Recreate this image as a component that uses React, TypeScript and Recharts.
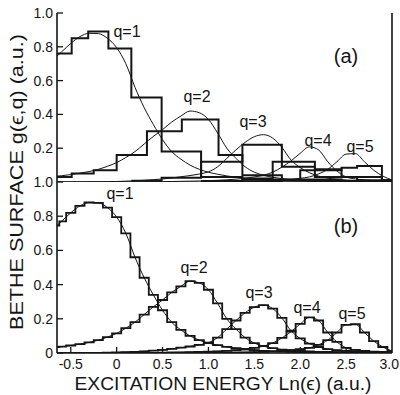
import React from "react";
import { ComposedChart, Line, XAxis, YAxis } from "recharts";

// Ln(eps) sample points of the smooth Bethe-surface curves
const energy = [
  -0.65, -0.6, -0.5, -0.4, -0.3, -0.2, -0.1, 0.0, 0.1, 0.2, 0.3, 0.4, 0.5,
  0.6, 0.7, 0.8, 0.9, 1.0, 1.1, 1.2, 1.3, 1.4, 1.5, 1.6, 1.7, 1.8, 1.9, 2.0,
  2.1, 2.2, 2.3, 2.4, 2.5, 2.6, 2.7, 2.8, 2.9, 3.0,
];

const q1Curve = [
  0.745, 0.77, 0.82, 0.86, 0.88, 0.878, 0.85, 0.795, 0.7, 0.56, 0.44, 0.34,
  0.25, 0.18, 0.135, 0.1, 0.075, 0.058, 0.046, 0.036, 0.028, 0.022, 0.017,
  0.013, 0.01, 0.008, 0.006, 0.005, 0.004, 0.003, 0.003, 0.002, 0.002, 0.002,
  0.001, 0.001, 0.001, 0.001,
];
const q2Curve = [
  0.035, 0.037, 0.044, 0.052, 0.062, 0.075, 0.093, 0.115, 0.145, 0.18, 0.225,
  0.27, 0.31, 0.355, 0.39, 0.42, 0.41, 0.37, 0.29, 0.2, 0.14, 0.09, 0.058,
  0.04, 0.028, 0.02, 0.015, 0.012, 0.009, 0.007, 0.006, 0.005, 0.004, 0.003,
  0.003, 0.002, 0.002, 0.002,
];
const q3Curve = [
  0, 0, 0, 0, 0.001, 0.001, 0.002, 0.003, 0.005, 0.007, 0.01, 0.014, 0.018,
  0.024, 0.031, 0.038, 0.047, 0.06, 0.09, 0.14, 0.19, 0.235, 0.268, 0.28,
  0.26, 0.205, 0.13, 0.085, 0.055, 0.035, 0.023, 0.016, 0.012, 0.009, 0.007,
  0.005, 0.004, 0.003,
];
const q4Curve = [
  0, 0, 0, 0, 0, 0, 0, 0, 0, 0, 0, 0.001, 0.002, 0.003, 0.004, 0.005, 0.006,
  0.008, 0.01, 0.013, 0.017, 0.022, 0.03, 0.04, 0.058, 0.088, 0.125, 0.17,
  0.208, 0.19, 0.12, 0.065, 0.03, 0.018, 0.012, 0.008, 0.006, 0.004,
];
const q5Curve = [
  0, 0, 0, 0, 0, 0, 0, 0, 0, 0, 0, 0, 0, 0, 0, 0, 0, 0, 0.001, 0.002, 0.003,
  0.004, 0.005, 0.007, 0.009, 0.012, 0.016, 0.022, 0.03, 0.048, 0.075, 0.12,
  0.165, 0.168, 0.12, 0.07, 0.035, 0.012,
];

// panel (a): coarse histograms, left bin edges and bin heights
const q1Edges = [-0.65, -0.49, -0.31, -0.09, 0.16, 0.49, 0.92, 1.37, 1.8, 2.45, 3.0];
const q1Heights = [0.76, 0.85, 0.89, 0.79, 0.5, 0.18, 0.03, 0.015, 0.008, 0.004, 0.004];
const q2Edges = [-0.65, -0.49, -0.25, 0.0, 0.33, 0.71, 1.11, 1.37, 1.8, 2.45, 3.0];
const q2Heights = [0.03, 0.05, 0.07, 0.16, 0.3, 0.37, 0.16, 0.04, 0.015, 0.006, 0.006];
const q3Edges = [0.16, 0.49, 0.92, 1.37, 1.8, 2.16, 2.62, 3.0];
const q3Heights = [0.008, 0.025, 0.12, 0.22, 0.09, 0.03, 0.01, 0.01];
const q4Edges = [0.92, 1.37, 1.7, 2.16, 2.45, 2.89, 3.0];
const q4Heights = [0.006, 0.02, 0.12, 0.075, 0.03, 0.01, 0.01];
const q5Edges = [1.37, 1.8, 2.0, 2.45, 2.62, 2.89, 3.0];
const q5Heights = [0.004, 0.012, 0.07, 0.085, 0.095, 0.01, 0.01];

const xTicks = [-0.5, 0, 0.5, 1.0, 1.5, 2.0, 2.5, 3.0];
const topYTicks = [0.2, 0.4, 0.6, 0.8, 1.0];
const bottomYTicks = [0, 0.2, 0.4, 0.6, 0.8, 1.0];
const sideTicks = [0.2, 0.4, 0.6, 0.8];
const curveNames = ["q=1", "q=2", "q=3", "q=4", "q=5"];

const INK = "#151515";
const FONT = "'Liberation Sans', Arial, sans-serif";

const curves = [q1Curve, q2Curve, q3Curve, q4Curve, q5Curve];
const curveRows = curves.map((c) => energy.map((x, i) => ({ x, y: c[i] })));
const coarse = [
  [q1Edges, q1Heights],
  [q2Edges, q2Heights],
  [q3Edges, q3Heights],
  [q4Edges, q4Heights],
  [q5Edges, q5Heights],
].map(([e, h]) => e.map((x, i) => ({ x, y: h[i] })));

const fmt = (v: number) => (v === 0 ? "0" : v.toFixed(1));

function LeftTick({ x, y, payload, showLabel }: any) {
  return (
    <g>
      <line x1={x} x2={x + 6} y1={y} y2={y} stroke={INK} strokeWidth={1.3} />
      {showLabel && (
        <text x={x - 4} y={y + 5} textAnchor="end" fontSize={14} fill={INK} fontFamily={FONT}>
          {fmt(payload.value)}
        </text>
      )}
    </g>
  );
}

function RightTick({ x, y }: any) {
  return <line x1={x} x2={x - 8} y1={y} y2={y} stroke={INK} strokeWidth={1.3} />;
}

function TopTick({ x, y }: any) {
  return <line x1={x} x2={x} y1={y} y2={y + 6} stroke={INK} strokeWidth={1.3} />;
}

function BottomTick({ x, y, payload }: any) {
  const last = payload.value >= 3;
  return (
    <g>
      {!last && <line x1={x} x2={x} y1={y} y2={y - 6} stroke={INK} strokeWidth={1.3} />}
      <text
        x={last ? x + 7 : x}
        y={y + 16}
        textAnchor={last ? "end" : "middle"}
        fontSize={14}
        fill={INK}
        fontFamily={FONT}
      >
        {fmt(payload.value)}
      </text>
    </g>
  );
}

function Panel({ top, bottom, stepped }: { top: number; bottom: number; stepped: boolean }) {
  return (
    <ComposedChart
      width={400}
      height={395}
      margin={{ top, right: 0, bottom: stepped ? 0 : bottom, left: 0 }}
      style={{ position: "absolute", left: 0, top: 0 }}
    >
      <XAxis
        type="number"
        dataKey="x"
        domain={[-0.65, 3.0]}
        allowDataOverflow
        ticks={xTicks}
        height={stepped ? bottom : 0}
        tickSize={0}
        tickMargin={0}
        tickLine={false}
        axisLine={{ stroke: INK, strokeWidth: 1.6 }}
        tick={stepped ? (p: any) => <BottomTick {...p} /> : false}
      />
      <XAxis
        xAxisId="top"
        orientation="top"
        type="number"
        domain={[-0.65, 3.0]}
        ticks={stepped ? [] : xTicks.slice(0, 7)}
        height={0}
        tickSize={0}
        tickMargin={0}
        tickLine={false}
        axisLine={{ stroke: INK, strokeWidth: 1.6 }}
        tick={stepped ? false : (p: any) => <TopTick {...p} />}
      />
      <YAxis
        type="number"
        domain={[0, 1]}
        allowDataOverflow
        ticks={stepped ? bottomYTicks : topYTicks}
        width={57}
        tickSize={0}
        tickMargin={0}
        tickLine={false}
        axisLine={{ stroke: INK, strokeWidth: 1.6 }}
        tick={(p: any) => <LeftTick {...p} showLabel />}
      />
      <YAxis
        yAxisId="right"
        orientation="right"
        type="number"
        domain={[0, 1]}
        ticks={sideTicks}
        width={8}
        tickSize={0}
        tickMargin={0}
        tickLine={false}
        axisLine={{ stroke: INK, strokeWidth: 1.6 }}
        tick={(p: any) => <RightTick {...p} />}
      />
      {curveRows.map((rows, i) => (
        <Line
          key={"c" + i}
          data={rows}
          dataKey="y"
          type="monotone"
          stroke={INK}
          strokeWidth={1}
          dot={false}
          isAnimationActive={false}
        />
      ))}
      {stepped
        ? curveRows.map((rows, i) => (
            <Line
              key={"s" + i}
              data={rows}
              dataKey="y"
              type="step"
              stroke={INK}
              strokeWidth={1.8}
              dot={false}
              isAnimationActive={false}
            />
          ))
        : coarse.map((rows, i) => (
            <Line
              key={"h" + i}
              data={rows}
              dataKey="y"
              type="stepAfter"
              stroke={INK}
              strokeWidth={2}
              dot={false}
              isAnimationActive={false}
            />
          ))}
    </ComposedChart>
  );
}

const topLabelPos = [
  [127, 37],
  [197, 102],
  [253, 127],
  [318, 146],
  [360, 152],
];
const bottomLabelPos = [
  [120, 199],
  [194, 273],
  [259, 298],
  [307, 313],
  [352, 319],
];

export default function App() {
  return (
    <div style={{ position: "absolute", left: 0, top: 0, width: 400, height: 395, background: "#fff" }}>
      <Panel top={13} bottom={213} stepped={false} />
      <Panel top={182} bottom={42} stepped />
      <svg width={400} height={395} style={{ position: "absolute", left: 0, top: 0, pointerEvents: "none" }}>
        <g fontFamily={FONT} fill={INK}>
          {curveNames.map((n, i) => (
            <text key={"t" + i} x={topLabelPos[i][0]} y={topLabelPos[i][1]} fontSize={16} textAnchor="middle">
              {n}
            </text>
          ))}
          {curveNames.map((n, i) => (
            <text key={"b" + i} x={bottomLabelPos[i][0]} y={bottomLabelPos[i][1]} fontSize={16} textAnchor="middle">
              {n}
            </text>
          ))}
          <text x={346} y={63} fontSize={20} textAnchor="middle">(a)</text>
          <text x={346} y={233} fontSize={20} textAnchor="middle">(b)</text>
          <text
            x={23}
            y={182}
            fontSize={19}
            textAnchor="middle"
            textLength={296}
            lengthAdjust="spacingAndGlyphs"
            transform="rotate(-90 23 182)"
          >
            BETHE SURFACE  g(ϵ,q)  (a.u.)
          </text>
          <text x={223} y={390} fontSize={18} textAnchor="middle" textLength={297} lengthAdjust="spacingAndGlyphs">
            EXCITATION ENERGY Ln(ϵ) (a.u.)
          </text>
        </g>
      </svg>
    </div>
  );
}
